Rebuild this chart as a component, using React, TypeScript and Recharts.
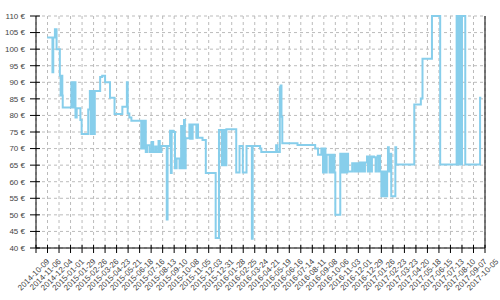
import { LineChart, Line, XAxis, YAxis, CartesianGrid, ReferenceLine } from "recharts";

// price history: date the price changed, and the new price in €
const dates = [
  "2014-11-05", "2014-11-18", "2014-11-20", "2014-11-24", "2014-11-28", "2014-12-06", "2014-12-08", "2014-12-10",
  "2014-12-12", "2014-12-13", "2015-01-03", "2015-01-05", "2015-01-07", "2015-01-09", "2015-01-11", "2015-01-13",
  "2015-01-16", "2015-01-25", "2015-01-28", "2015-02-13", "2015-02-17", "2015-02-19", "2015-02-21", "2015-02-23",
  "2015-02-25", "2015-02-27", "2015-03-01", "2015-03-14", "2015-03-19", "2015-03-26", "2015-04-07", "2015-04-18",
  "2015-05-07", "2015-05-18", "2015-05-20", "2015-05-24", "2015-05-29", "2015-06-22", "2015-06-24", "2015-06-26",
  "2015-06-28", "2015-06-30", "2015-07-02", "2015-07-03", "2015-07-06", "2015-07-12", "2015-07-17", "2015-07-21",
  "2015-07-26", "2015-07-29", "2015-08-03", "2015-08-06", "2015-08-10", "2015-08-23", "2015-08-25", "2015-08-31",
  "2015-09-02", "2015-09-04", "2015-09-08", "2015-09-12", "2015-09-16", "2015-09-23", "2015-09-27", "2015-10-01",
  "2015-10-04", "2015-10-06", "2015-10-08", "2015-10-17", "2015-10-19", "2015-10-21", "2015-10-23", "2015-10-25",
  "2015-11-03", "2015-11-05", "2015-11-07", "2015-11-18", "2015-11-26", "2015-12-20", "2015-12-28", "2016-01-04",
  "2016-01-06", "2016-01-08", "2016-01-10", "2016-01-12", "2016-01-15", "2016-02-08", "2016-02-16", "2016-02-24",
  "2016-03-04", "2016-03-17", "2016-03-19", "2016-04-06", "2016-04-09", "2016-05-15", "2016-05-18", "2016-05-24",
  "2016-05-26", "2016-05-28", "2016-05-30", "2016-07-06", "2016-08-18", "2016-08-25", "2016-09-02", "2016-09-06",
  "2016-09-09", "2016-09-12", "2016-09-15", "2016-09-22", "2016-09-24", "2016-09-26", "2016-09-28", "2016-09-30",
  "2016-10-02", "2016-10-04", "2016-10-06", "2016-10-18", "2016-10-21", "2016-10-24", "2016-10-27", "2016-10-30",
  "2016-11-02", "2016-11-04", "2016-11-06", "2016-11-16", "2016-11-21", "2016-11-24", "2016-11-27", "2016-11-30",
  "2016-12-03", "2016-12-05", "2016-12-07", "2016-12-09", "2016-12-11", "2016-12-13", "2016-12-15", "2016-12-17",
  "2016-12-22", "2016-12-24", "2016-12-26", "2016-12-28", "2016-12-30", "2017-01-01", "2017-01-03", "2017-01-08",
  "2017-01-12", "2017-01-14", "2017-01-17", "2017-01-19", "2017-01-21", "2017-01-23", "2017-01-26", "2017-01-28",
  "2017-01-30", "2017-02-01", "2017-02-03", "2017-02-05", "2017-02-07", "2017-02-09", "2017-02-11", "2017-02-13",
  "2017-02-15", "2017-02-17", "2017-02-19", "2017-03-01", "2017-03-03", "2017-04-16", "2017-05-02", "2017-05-06",
  "2017-05-29", "2017-06-18", "2017-07-28", "2017-07-30", "2017-08-01", "2017-08-03", "2017-08-05", "2017-08-07",
  "2017-08-10", "2017-08-18", "2017-09-23", "2017-09-26",
];

const prices = [
  103.5, 93, 103.5, 106, 100, 92, 86, 92,
  86, 82.4, 90, 82.4, 90, 82.4, 90, 79.4,
  82.2, 78.6, 74.4, 81.8, 87.4, 74.4, 87.4, 74.4,
  87.4, 74.4, 87.4, 91.6, 92, 90, 85.3, 80.4,
  82.6, 90, 80.6, 79.4, 78.4, 70, 78.4, 70,
  78.4, 70, 78.4, 69, 71, 69, 72, 69,
  70.6, 69, 72.3, 69, 70.8, 48.6, 70.8, 75.4,
  62.6, 75.4, 75, 64.1, 67, 64.1, 76.8, 64.1,
  78.6, 64.1, 73.1, 77.3, 73, 77.3, 73, 77.3,
  73.3, 77.3, 73.3, 72.6, 62.6, 43, 75.6, 65,
  75.6, 65, 75.6, 65, 75.8, 62.8, 70.8, 62.8,
  70.8, 42.8, 70.8, 70, 69, 71, 69, 88.5,
  89, 79.6, 71.6, 71.1, 70, 68.1, 70, 62.8,
  70, 62.8, 68.1, 62.8, 68.1, 62.8, 68.1, 62.8,
  68.1, 62.8, 50, 68.4, 62.8, 68.4, 62.8, 68.4,
  62.8, 68.4, 63.1, 65.6, 63.1, 65.6, 63.1, 65.6,
  63.1, 65.8, 63.1, 65.8, 63.1, 65.8, 63.1, 65.8,
  67.6, 63.1, 67.6, 63.1, 67.6, 63.1, 67.6, 67.4,
  63.1, 67.4, 67.8, 63.1, 67.8, 63.1, 55.6, 63.1,
  55.6, 63.1, 55.6, 63.1, 55.6, 63.1, 70.4, 68.4,
  63.1, 68.4, 55.6, 70.4, 65.2, 83.3, 85.1, 97.1,
  110, 65.2, 110, 65.2, 110, 65.2, 110, 65.2,
  110, 65.2, 85.3, 85.3,
];

const xTickLabels = [
  "2014-10-09", "2014-11-06", "2014-12-04", "2015-01-01", "2015-01-29", "2015-02-26", "2015-03-26", "2015-04-23",
  "2015-05-21", "2015-06-18", "2015-07-16", "2015-08-13", "2015-09-10", "2015-10-08", "2015-11-05", "2015-12-03",
  "2015-12-31", "2016-01-28", "2016-02-25", "2016-03-24", "2016-04-21", "2016-05-19", "2016-06-16", "2016-07-14",
  "2016-08-11", "2016-09-08", "2016-10-06", "2016-11-03", "2016-12-01", "2016-12-29", "2017-01-26", "2017-02-23",
  "2017-03-23", "2017-04-20", "2017-05-18", "2017-06-15", "2017-07-13", "2017-08-10", "2017-09-07", "2017-10-05",
];

const yTicks = [40, 45, 50, 55, 60, 65, 70, 75, 80, 85, 90, 95, 100, 105, 110];

const data = dates.map((d, i) => ({ t: Date.parse(d), price: prices[i] }));
const xTicks = xTickLabels.map((d) => Date.parse(d));

const FONT = "'Liberation Sans', Arial, sans-serif";

const DateTick = (props: any) => {
  const { x, y, index } = props;
  return (
    <g transform={`translate(${x},${y})`}>
      <line y1={-3} y2={5} stroke="#000" />
      <text
        transform="rotate(-45)"
        x={0}
        y={17}
        dy="0.35em"
        textAnchor="end"
        fontSize={8}
        fontFamily={FONT}
        fill="#444"
      >
        {xTickLabels[index]}
      </text>
    </g>
  );
};

const PriceTick = (props: any) => {
  const { x, y, payload } = props;
  return (
    <g transform={`translate(${x},${y})`}>
      <line x1={-6} x2={4} stroke="#000" />
      <text x={-11} y={0} dy="0.35em" textAnchor="end" fontSize={8} fontFamily={FONT} fill="#444">
        {payload.value} €
      </text>
    </g>
  );
};

export default function App() {
  return (
    <div style={{ position: "absolute", left: 0, top: 0, width: 500, height: 300, background: "#fff" }}>
      <LineChart width={500} height={300} data={data} margin={{ top: 16, right: 15, bottom: 0, left: 0 }}>
        <CartesianGrid stroke="#bbb" strokeDasharray="3 3" />
        <XAxis
          dataKey="t"
          type="number"
          domain={[xTicks[0], xTicks[xTicks.length - 1]]}
          ticks={xTicks}
          interval={0}
          height={52}
          tickSize={0}
          tickMargin={0}
          tickLine={false}
          axisLine={{ stroke: "#000" }}
          tick={<DateTick />}
        />
        <YAxis
          type="number"
          domain={[40, 110]}
          ticks={yTicks}
          interval={0}
          width={36}
          tickSize={0}
          tickMargin={0}
          tickLine={false}
          axisLine={{ stroke: "#000" }}
          tick={<PriceTick />}
        />
        <ReferenceLine x={xTicks[xTicks.length - 1]} stroke="#000" />
        <Line
          type="stepAfter"
          dataKey="price"
          stroke="#87ceeb"
          strokeWidth={2}
          dot={false}
          isAnimationActive={false}
        />
      </LineChart>
    </div>
  );
}
